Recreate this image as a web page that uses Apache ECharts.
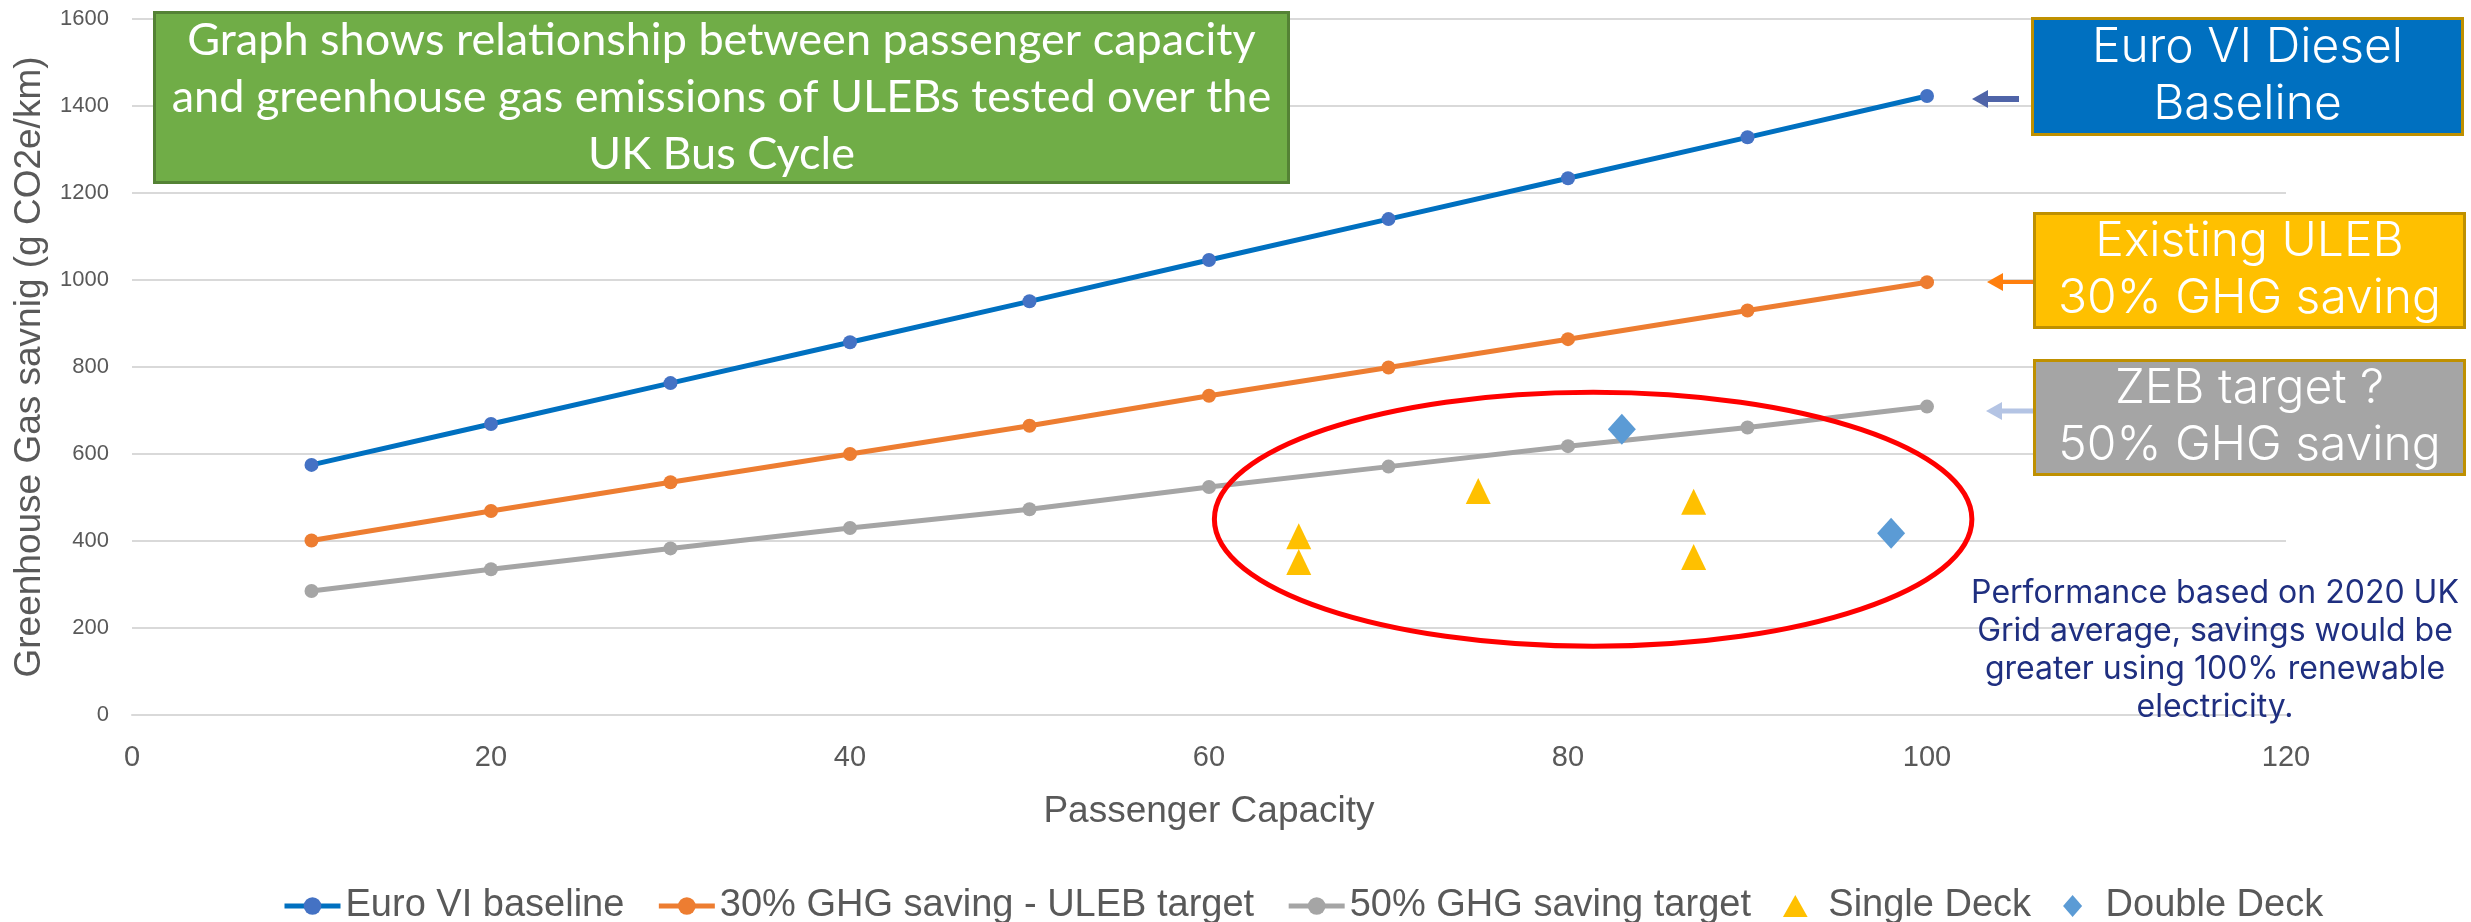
<!DOCTYPE html>
<html>
<head>
<meta charset="utf-8">
<script src="https://cdn.jsdelivr.net/npm/echarts@6/dist/echarts.min.js"></script>
<style>
  html, body { margin: 0; padding: 0; background: #fff; }
  #chart { width: 2471px; height: 922px; }
</style>
</head>
<body>
<div id="chart"></div>
<script>
// passenger capacity (x) for the three reference lines
const capacity = [10, 20, 30, 40, 50, 60, 70, 80, 90, 100]
// g CO2e/km
const euroBaseline = [575, 669, 763, 857, 951, 1046, 1140, 1234, 1328, 1423]
const ulebTarget = [401, 469, 535, 600, 665, 734, 799, 864, 930, 995]
const zebTarget = [285, 335, 383, 430, 473, 524, 571, 618, 661, 709]
// tested buses [capacity, emissions]
const singleDeck = [[65, 411], [65, 352], [75, 515], [87, 490], [87, 363]]
const doubleDeck = [[83, 657], [98, 418]]

// red ring around the tested buses (data units)
const ringCenter = [81.4, 450]
const ringRadius = [21.1, 292]

const seriesNames = ['Euro VI baseline', '30% GHG saving - ULEB target', '50% GHG saving target', 'Single Deck', 'Double Deck']

const triPath = 'path://M14,0L28,25L0,25Z'
const diaPath = 'path://M13,0L26,15L13,30L0,15Z'

const chart = echarts.init(document.getElementById('chart'))

const pair = (xs, ys) => xs.map((x, i) => [x, ys[i]])

const lineSeries = (name, data, lineColor, dotColor) => ({
  name: name,
  type: 'line',
  data: pair(capacity, data),
  symbol: 'circle',
  symbolSize: 14,
  lineStyle: { color: lineColor, width: 5 },
  itemStyle: { color: dotColor },
  z: 3
})

const boxText = (left, top, w, h, fill, border, text, font) => ({
  type: 'group',
  left: left,
  top: top,
  children: [
    {
      type: 'rect',
      shape: { x: 0, y: 0, width: w, height: h },
      style: { fill: fill, stroke: border, lineWidth: 3 }
    },
    {
      type: 'text',
      x: w / 2,
      y: h / 2,
      style: Object.assign({
        text: text,
        fill: '#fff',
        align: 'center',
        verticalAlign: 'middle'
      }, font)
    }
  ]
})

const arrow = (xTail, xTip, y, color, width) => ({
  type: 'group',
  children: [
    {
      type: 'line',
      shape: { x1: xTail, y1: y, x2: xTip + 14, y2: y },
      style: { stroke: color, lineWidth: width }
    },
    {
      type: 'polygon',
      shape: { points: [[xTip, y], [xTip + 16, y - 9], [xTip + 16, y + 9]] },
      style: { fill: color }
    }
  ]
})

const poppinsLike = { fontFamily: 'Inter', fontWeight: 300, fontSize: 48, lineHeight: 57 }

chart.setOption({
  animation: false,
  textStyle: { fontFamily: 'Liberation Sans' },
  grid: { left: 132, right: 185, top: 19, bottom: 207 },
  legend: {
    data: [
      { name: seriesNames[0] },
      { name: seriesNames[1] },
      { name: seriesNames[2] },
      { name: seriesNames[3], icon: triPath },
      { name: seriesNames[4], icon: diaPath }
    ],
    left: 277,
    top: 882,
    itemWidth: 56,
    itemHeight: 22,
    itemGap: 32,
    lineStyle: { width: 5 },
    textStyle: { fontSize: 38, color: '#595959', fontFamily: 'Liberation Sans' }
  },
  xAxis: {
    type: 'value',
    min: 0,
    max: 120,
    interval: 20,
    name: 'Passenger Capacity',
    nameLocation: 'middle',
    nameGap: 78,
    nameTextStyle: { fontSize: 37, color: '#595959' },
    axisLine: { lineStyle: { color: '#D9D9D9', width: 2 } },
    axisTick: { show: false },
    axisLabel: { fontSize: 29, color: '#595959', margin: 28 },
    splitLine: { show: false }
  },
  yAxis: {
    type: 'value',
    min: 0,
    max: 1600,
    interval: 200,
    name: 'Greenhouse Gas savnig (g CO2e/km)',
    nameLocation: 'middle',
    nameGap: 84,
    nameTextStyle: { fontSize: 37, color: '#595959' },
    axisLine: { show: false },
    axisTick: { show: false },
    axisLabel: { fontSize: 22, color: '#595959', margin: 23, formatter: (v) => String(v) },
    splitLine: { lineStyle: { color: '#D9D9D9', width: 2 } }
  },
  series: [
    lineSeries(seriesNames[0], euroBaseline, '#0070C0', '#4472C4'),
    lineSeries(seriesNames[1], ulebTarget, '#ED7D31', '#ED7D31'),
    lineSeries(seriesNames[2], zebTarget, '#A5A5A5', '#A5A5A5'),
    {
      name: seriesNames[3],
      type: 'scatter',
      data: singleDeck,
      symbol: triPath,
      symbolSize: [25, 26],
      itemStyle: { color: '#FFC000', opacity: 1 },
      z: 4
    },
    {
      name: seriesNames[4],
      type: 'scatter',
      data: doubleDeck,
      symbol: diaPath,
      symbolSize: [28, 31],
      itemStyle: { color: '#5B9BD5', opacity: 1 },
      z: 4
    }
  ]
})

// annotations: ring, text boxes, arrows, note
const c = chart.convertToPixel({ gridIndex: 0 }, ringCenter)
const edge = chart.convertToPixel({ gridIndex: 0 }, [ringCenter[0] + ringRadius[0], ringCenter[1] + ringRadius[1]])

chart.setOption({
  graphic: [
    {
      type: 'ellipse',
      shape: { cx: c[0], cy: c[1], rx: edge[0] - c[0], ry: c[1] - edge[1] },
      style: { fill: 'none', stroke: '#FF0000', lineWidth: 5 },
      z: 10
    },
    boxText(153, 11, 1134, 170, '#70AD47', '#548235',
      'Graph shows relationship between passenger capacity\nand greenhouse gas emissions of ULEBs tested over the\nUK Bus Cycle',
      { fontFamily: 'Lato', fontSize: 45, lineHeight: 57 }),
    boxText(2031, 17, 430, 116, '#0070C0', '#BF9000', 'Euro VI Diesel\nBaseline', poppinsLike),
    boxText(2033, 212, 430, 114, '#FFC000', '#BF9000', 'Existing ULEB\n30% GHG saving', poppinsLike),
    boxText(2033, 359, 430, 114, '#A5A5A5', '#BF9000', 'ZEB target ?\n50% GHG saving', poppinsLike),
    arrow(2019, 1972, 99, '#4F64A8', 6),
    arrow(2033, 1987, 282, '#FF7F0E', 4),
    arrow(2033, 1986, 411, '#B4C4E4', 5),
    {
      type: 'text',
      x: 2215,
      y: 650,
      style: {
        text: 'Performance based on 2020 UK\nGrid average, savings would be\ngreater using 100% renewable\nelectricity.',
        fill: '#1F2F80',
        fontFamily: 'Inter',
        fontSize: 32,
        lineHeight: 38,
        align: 'center',
        verticalAlign: 'middle'
      },
      z: 10
    }
  ]
})
</script>
</body>
</html>
